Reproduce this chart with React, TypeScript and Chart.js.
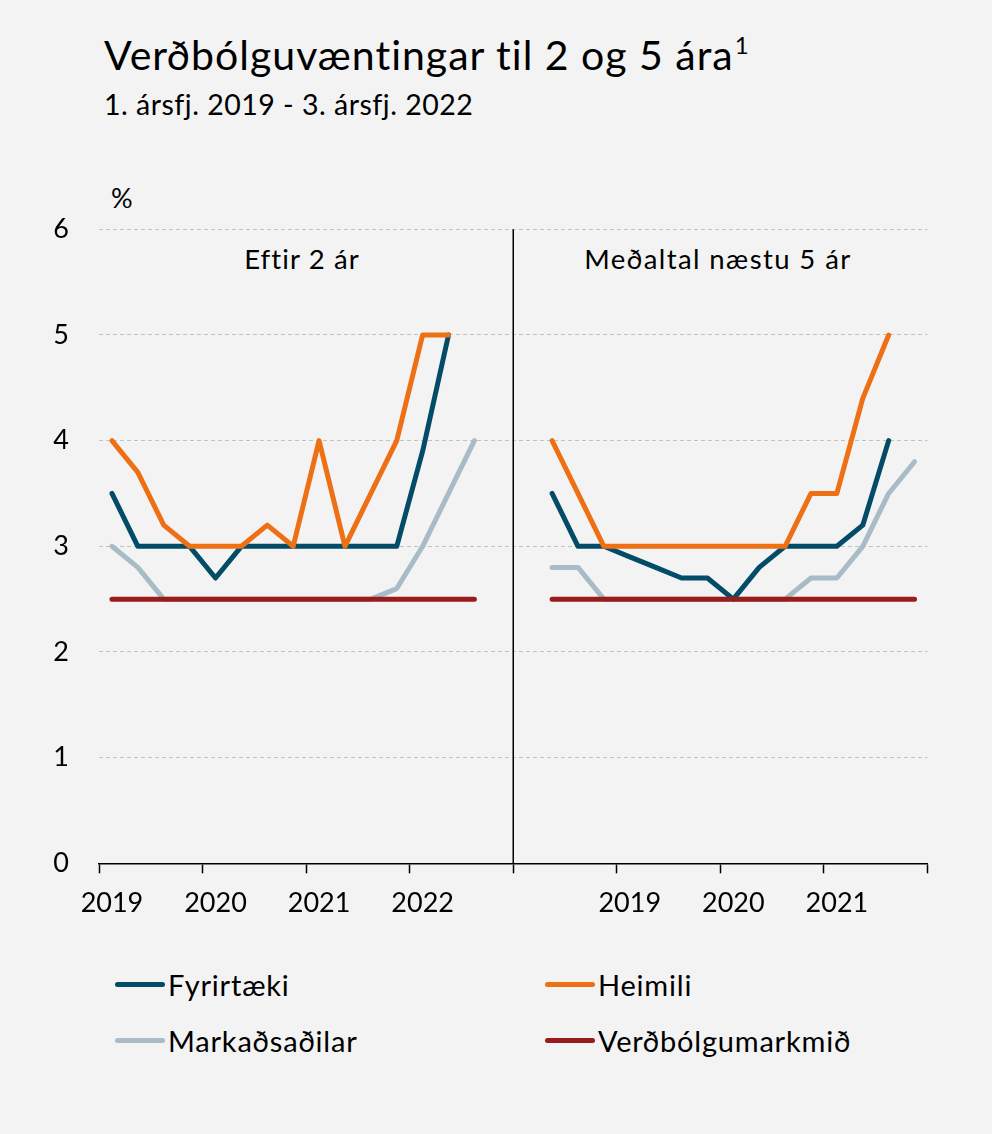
import React, { useEffect, useRef } from "react";
import { Chart, registerables } from "chart.js";

Chart.register(...registerables);

// x-axis categories (quarters); labels shown every 4th category
const xLabels = [
  "2019", "", "", "", "2020", "", "", "", "2021", "", "", "", "2022", "", "", "",
  "", "", "", "", "2019", "", "", "", "2020", "", "", "", "2021", "", "", "",
];

// Panel 1: Eftir 2 ár (1. ársfj. 2019 - 3. ársfj. 2022)
const fyrirtaeki2 = [3.5, 3, 3, 3, 2.7, 3, 3, 3, 3, 3, 3, 3, 3.9, 5, null];
const heimili2 = [4, 3.7, 3.2, 3, 3, 3, 3.2, 3, 4, 3, 3.5, 4, 5, 5, null];
const markadsadilar2 = [3, 2.8, 2.5, 2.5, 2.5, 2.5, 2.5, 2.5, 2.5, 2.5, 2.5, 2.6, 3, 3.5, 4];
const markmid2 = [2.5, 2.5, 2.5, 2.5, 2.5, 2.5, 2.5, 2.5, 2.5, 2.5, 2.5, 2.5, 2.5, 2.5, 2.5];

// Panel 2: Meðaltal næstu 5 ár
const fyrirtaeki5 = [3.5, 3, 3, 2.9, 2.8, 2.7, 2.7, 2.5, 2.8, 3, 3, 3, 3.2, 4, null];
const heimili5 = [4, 3.5, 3, 3, 3, 3, 3, 3, 3, 3, 3.5, 3.5, 4.4, 5, null];
const markadsadilar5 = [2.8, 2.8, 2.5, 2.5, 2.5, 2.5, 2.5, 2.5, 2.5, 2.5, 2.7, 2.7, 3, 3.5, 3.8];
const markmid5 = [2.5, 2.5, 2.5, 2.5, 2.5, 2.5, 2.5, 2.5, 2.5, 2.5, 2.5, 2.5, 2.5, 2.5, 2.5];

const seriesNames = ["Fyrirtæki", "Heimili", "Markaðsaðilar", "Verðbólgumarkmið"];
const seriesColors = ["#034c67", "#ee7014", "#a8bcc8", "#9a1b1b"];

const FONT = "Lato, 'Open Sans', sans-serif";

// left panel occupies categories 0..15, right panel 16..31 (first right point at 17)
const joinPanels = (a: (number | null)[], b: (number | null)[]) => [...a, null, null, ...b];

export default function App() {
  const ref = useRef<HTMLCanvasElement>(null);

  useEffect(() => {
    const dividerPlugin = {
      id: "panelDivider",
      afterDatasetsDraw(chart: any) {
        const xs = chart.scales.x;
        const a = chart.chartArea;
        const px = (xs.getPixelForValue(15) + xs.getPixelForValue(16)) / 2;
        const ctx = chart.ctx;
        ctx.save();
        ctx.strokeStyle = "#000";
        ctx.lineWidth = 1.5;
        ctx.beginPath();
        ctx.moveTo(px, a.top);
        ctx.lineTo(px, a.bottom);
        ctx.stroke();
        ctx.restore();
      },
    };

    const data = [
      joinPanels(fyrirtaeki2, fyrirtaeki5),
      joinPanels(heimili2, heimili5),
      joinPanels(markadsadilar2, markadsadilar5),
      joinPanels(markmid2, markmid5),
    ];
    const orders = [2, 1, 3, 0];

    const chart = new Chart(ref.current as HTMLCanvasElement, {
      type: "line",
      data: {
        labels: xLabels,
        datasets: data.map((d, i) => ({
          label: seriesNames[i],
          data: d,
          borderColor: seriesColors[i],
          backgroundColor: seriesColors[i],
          order: orders[i],
          spanGaps: false,
        })),
      },
      options: {
        responsive: false,
        animation: false,
        devicePixelRatio: 1,
        layout: { padding: { top: 49.3, right: 64.5, left: 0, bottom: 0 } },
        plugins: { legend: { display: false }, tooltip: { enabled: false } },
        elements: {
          point: { radius: 0, hoverRadius: 0 },
          line: { borderWidth: 5, borderCapStyle: "round", borderJoinStyle: "round", tension: 0 },
        },
        scales: {
          x: {
            type: "category",
            offset: true,
            grid: {
              offset: true,
              drawOnChartArea: false,
              tickLength: 10,
              tickWidth: 1.5,
              tickColor: (ctx: any) =>
                ctx.index === undefined || ctx.index % 4 === 0 ? "#000" : "rgba(0,0,0,0)",
            },
            border: { display: true, color: "#000", width: 1.5 },
            ticks: {
              autoSkip: false,
              maxRotation: 0,
              minRotation: 0,
              padding: 14,
              color: "#000",
              font: { family: FONT, size: 27 },
            },
            afterFit: (s: any) => {
              s.height = 76.7;
            },
          },
          y: {
            min: 0,
            max: 6,
            ticks: {
              stepSize: 1,
              padding: 30,
              color: "#000",
              font: { family: FONT, size: 27 },
            },
            grid: {
              color: (ctx: any) => (ctx.tick && ctx.tick.value === 0 ? "rgba(0,0,0,0)" : "#c2c2c2"),
              lineWidth: 1,
              drawTicks: false,
            },
            border: { display: false, dash: [4, 3] },
            afterFit: (s: any) => {
              s.width = 99;
            },
          },
        },
      },
      plugins: [dividerPlugin],
    } as any);

    return () => chart.destroy();
  }, []);

  const legendItem = (i: number, left: number, top: number) => (
    <div key={i} style={{ position: "absolute", left, top, height: 40, display: "flex", alignItems: "center" }}>
      <div style={{ width: 50, height: 5, borderRadius: 3, background: seriesColors[i], marginRight: 3 }} />
      <span style={{ fontSize: 29, lineHeight: 1, letterSpacing: 0.8, whiteSpace: "nowrap" }}>{seriesNames[i]}</span>
    </div>
  );

  return (
    <div
      style={{
        position: "relative",
        width: 992,
        height: 1134,
        background: "#f3f3f3",
        fontFamily: FONT,
        color: "#000",
        overflow: "hidden",
      }}
    >
      <style>{"body{margin:0}"}</style>
      <div
        style={{
          position: "absolute",
          left: 104,
          top: 34,
          fontSize: 41,
          lineHeight: 1,
          letterSpacing: 1,
          whiteSpace: "nowrap",
        }}
      >
        Verðbólguvæntingar til 2 og 5 ára
        <span style={{ fontSize: 24, position: "relative", top: -16, marginLeft: 1, letterSpacing: 0 }}>1</span>
      </div>
      <div
        style={{
          position: "absolute",
          left: 104,
          top: 89.5,
          fontSize: 28.5,
          lineHeight: 1,
          letterSpacing: 0.5,
          whiteSpace: "nowrap",
        }}
      >
        1. ársfj. 2019 - 3. ársfj. 2022
      </div>
      <div style={{ position: "absolute", left: 111, top: 184, fontSize: 27, lineHeight: 1 }}>%</div>
      <div
        style={{
          position: "absolute",
          left: 202,
          width: 200,
          textAlign: "center",
          top: 244.5,
          fontSize: 27.5,
          lineHeight: 1,
          letterSpacing: 1.1,
          whiteSpace: "nowrap",
        }}
      >
        Eftir 2 ár
      </div>
      <div
        style={{
          position: "absolute",
          left: 568,
          width: 300,
          textAlign: "center",
          top: 244.5,
          fontSize: 27.5,
          lineHeight: 1,
          letterSpacing: 1.4,
          whiteSpace: "nowrap",
        }}
      >
        Meðaltal næstu 5 ár
      </div>
      <canvas
        ref={ref}
        width={992}
        height={760}
        style={{ position: "absolute", left: 0, top: 180, width: 992, height: 760 }}
      />
      {legendItem(0, 115, 964)}
      {legendItem(1, 545, 964)}
      {legendItem(2, 115, 1020)}
      {legendItem(3, 545, 1020)}
    </div>
  );
}
